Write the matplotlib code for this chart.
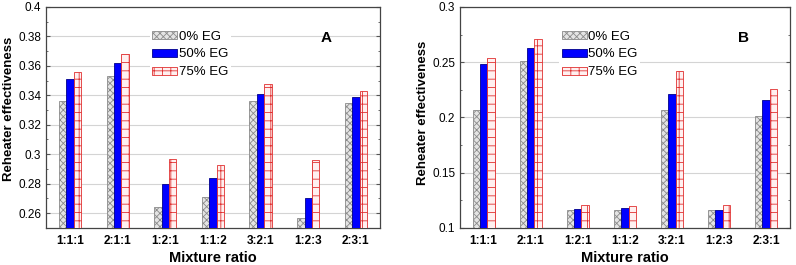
import matplotlib.pyplot as plt
import numpy as np
from matplotlib.ticker import MultipleLocator, FormatStrFormatter

RATIOS = ["1:1:1", "2:1:1", "1:2:1", "1:1:2", "3:2:1", "1:2:3", "2:3:1"]
SERIES = ["0% EG", "50% EG", "75% EG"]

# panel A
A_EG0 = [0.336, 0.353, 0.264, 0.271, 0.336, 0.257, 0.335]
A_EG50 = [0.351, 0.362, 0.280, 0.284, 0.341, 0.270, 0.339]
A_EG75 = [0.356, 0.368, 0.297, 0.293, 0.348, 0.296, 0.343]

# panel B
B_EG0 = [0.207, 0.251, 0.116, 0.116, 0.207, 0.116, 0.201]
B_EG50 = [0.248, 0.263, 0.117, 0.118, 0.221, 0.116, 0.216]
B_EG75 = [0.254, 0.271, 0.121, 0.120, 0.242, 0.121, 0.226]

STYLES = [
    dict(facecolor="#e4e4e4", edgecolor="#8a8a8a", hatch="xxxxx"),
    dict(facecolor="#0000ff", edgecolor="#00008a", hatch=None),
    dict(facecolor="#fff0f0", edgecolor="#e03030", hatch="++"),
]

plt.rcParams["font.family"] = ["Liberation Sans", "DejaVu Sans"]
plt.rcParams["hatch.linewidth"] = 0.6


def draw_panel(ax, values, ylim, major, minor, fmt, letter, legend_pos, label_y):
    x = np.arange(len(RATIOS))
    width = 0.155
    handles = []
    for i, (vals, style) in enumerate(zip(values, STYLES)):
        bottom = ylim[0]
        bars = ax.bar(x + (i - 1) * width, np.array(vals) - bottom, width, bottom=bottom,
                      linewidth=0.6, zorder=3, label=SERIES[i], **style)
        handles.append(bars)
    ax.set_xlim(-0.5, len(RATIOS) - 0.5)
    ax.set_ylim(*ylim)
    ax.set_xticks(x)
    ax.set_xticklabels(RATIOS, fontweight="bold", fontsize=8.5)
    ax.yaxis.set_major_locator(MultipleLocator(major))
    ax.yaxis.set_minor_locator(MultipleLocator(minor))
    ax.yaxis.set_major_formatter(FormatStrFormatter(fmt))
    ax.grid(axis="y", color="#d4d4d4", linewidth=0.8, zorder=0)
    ax.tick_params(axis="y", which="both", direction="in", right=True, labelsize=8.5, color="#555555")
    ax.tick_params(axis="y", which="major", length=3)
    ax.tick_params(axis="y", which="minor", length=1.5)
    ax.tick_params(axis="x", length=0, pad=5)
    for sp in ax.spines.values():
        sp.set_color("#444444")
        sp.set_linewidth(0.9)
    ax.set_xlabel("Mixture ratio", fontweight="bold", fontsize=10.5, labelpad=3)
    ax.set_ylabel("Reheater effectiveness", fontweight="bold", fontsize=9.5)
    ax.yaxis.set_label_coords(-0.094, label_y)
    ax.text(letter[0], letter[1], letter[2], transform=ax.transAxes, fontsize=11,
            fontweight="bold", ha="center", va="center")
    leg = ax.legend(handles=handles, loc="upper left", bbox_to_anchor=legend_pos, frameon=True,
                    fontsize=9.5, handlelength=1.9, handleheight=0.6, handletextpad=0.1,
                    labelspacing=0.45, borderpad=0.2, borderaxespad=0)
    leg.get_frame().set_edgecolor("none")
    leg.get_frame().set_facecolor("white")
    leg.get_frame().set_alpha(1)
    leg.set_zorder(5)


fig = plt.figure(figsize=(7.96, 2.65), dpi=100)
ax_a = fig.add_axes([0.058, 0.14, 0.419, 0.834])
ax_b = fig.add_axes([0.578, 0.14, 0.414, 0.834])

draw_panel(ax_a, [A_EG0, A_EG50, A_EG75], (0.25, 0.4), 0.02, 0.01, "%g",
           (0.84, 0.86, "A"), (0.31, 0.905), 0.54)
draw_panel(ax_b, [B_EG0, B_EG50, B_EG75], (0.1, 0.3), 0.05, 0.025, "%g",
           (0.86, 0.86, "B"), (0.3, 0.905), 0.52)

fig.savefig("out.png", dpi=100)
